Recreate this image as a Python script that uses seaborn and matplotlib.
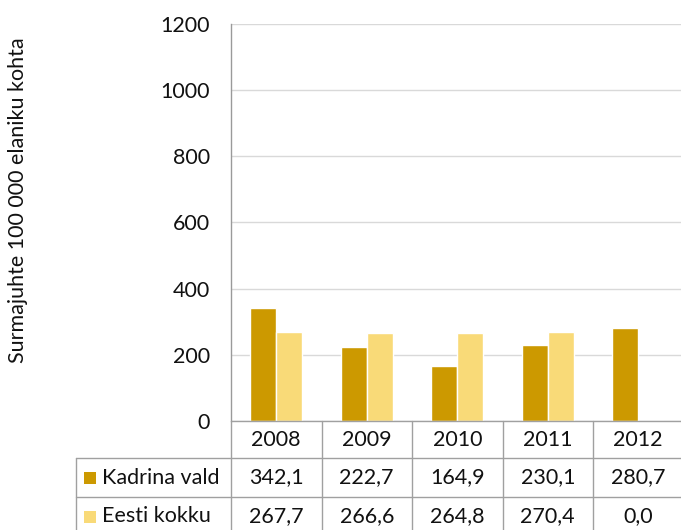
import matplotlib
matplotlib.use("Agg")
import matplotlib.pyplot as plt
import matplotlib.transforms as mtransforms
from matplotlib.lines import Line2D
from matplotlib.patches import Rectangle
import seaborn as sns
import pandas as pd

years = ["2008", "2009", "2010", "2011", "2012"]
series_names = ["Kadrina vald", "Eesti kokku"]
kadrina = [342.1, 222.7, 164.9, 230.1, 280.7]
eesti = [267.7, 266.6, 264.8, 270.4, 0.0]
yticks = [0, 200, 400, 600, 800, 1000, 1200]
ylabel = "Surmajuhte 100 000 elaniku kohta"
colors = ["#CC9900", "#F9DA78"]

sns.set_style("white")
plt.rcParams["font.family"] = ["Lato", "DejaVu Sans"]

W, H = 681, 530
fig = plt.figure(figsize=(W / 100, H / 100), dpi=100)
fig.patch.set_facecolor("white")

def fx(x):
    return x / W

def fy(y):
    return 1 - y / H

ax_left, ax_right, ax_top, ax_bottom = 231, 683.5, 24, 421
ax = fig.add_axes([fx(ax_left), fy(ax_bottom), (ax_right - ax_left) / W, (ax_bottom - ax_top) / H])

df = pd.DataFrame({
    "year": years * 2,
    "series": [series_names[0]] * len(years) + [series_names[1]] * len(years),
    "value": kadrina + eesti,
})

sns.barplot(data=df, x="year", y="value", hue="series", palette=colors,
            width=0.575, edgecolor="white", linewidth=1, ax=ax, legend=False,
            errorbar=None, saturation=1)

fs = 15.5
tc = "#111111"

ax.set_xlim(-0.5, 4.5)
ax.set_ylim(0, 1200)
ax.set_yticks(yticks)
ax.set_yticklabels([str(t) for t in yticks], fontsize=fs, color=tc)
ax.tick_params(axis="y", length=0, pad=15)
ax.set_xticks([])
ax.set_xlabel("")
ax.set_ylabel("")
ax.set_axisbelow(True)
ax.yaxis.grid(True, color="#D9D9D9", linewidth=1)
for s in ["top", "right", "bottom"]:
    ax.spines[s].set_visible(False)
ax.spines["left"].set_color("#9A9A9A")
ax.spines["left"].set_linewidth(1)

fig.text(fx(18), fy(200), ylabel, rotation=90, ha="center", va="center",
         fontsize=15.5, color=tc)

# data table below the axis
bt = mtransforms.blended_transform_factory(ax.transData, fig.transFigure)
lc = "#A0A0A0"
lw = 1
n = len(years)
for k in range(n + 1):
    fig.add_artist(Line2D([k - 0.5, k - 0.5], [fy(421), fy(540)], transform=bt,
                          color=lc, linewidth=lw))
fig.add_artist(Line2D([-0.5, n - 0.5], [fy(421), fy(421)], transform=bt, color=lc, linewidth=lw))
x_left_data = ax.transData.inverted().transform(fig.transFigure.transform((fx(75.7), 0)))[0]
for yy in [458, 497]:
    fig.add_artist(Line2D([x_left_data, n - 0.5], [fy(yy), fy(yy)], transform=bt,
                          color=lc, linewidth=lw))
fig.add_artist(Line2D([fx(75.7), fx(75.7)], [fy(458), fy(540)], transform=fig.transFigure,
                      color=lc, linewidth=lw))

for k, yr in enumerate(years):
    fig.text(k, fy(439.5), yr, transform=bt, ha="center", va="center", fontsize=fs, color=tc)

rows = [kadrina, eesti]
row_y = [477.5, 516.5]
for vals, yy in zip(rows, row_y):
    for k, v in enumerate(vals):
        fig.text(k, fy(yy), f"{v:.1f}".replace(".", ","), transform=bt,
                 ha="center", va="center", fontsize=fs, color=tc)

for name, col, yy in zip(series_names, colors, row_y):
    fig.add_artist(Rectangle((fx(84), fy(yy + 6)), 12 / W, 12 / H, transform=fig.transFigure,
                             facecolor=col, edgecolor="none"))
    fig.text(fx(102), fy(yy), name, ha="left", va="center", fontsize=fs, color=tc)

fig.savefig("out.png", dpi=100, facecolor="white")
